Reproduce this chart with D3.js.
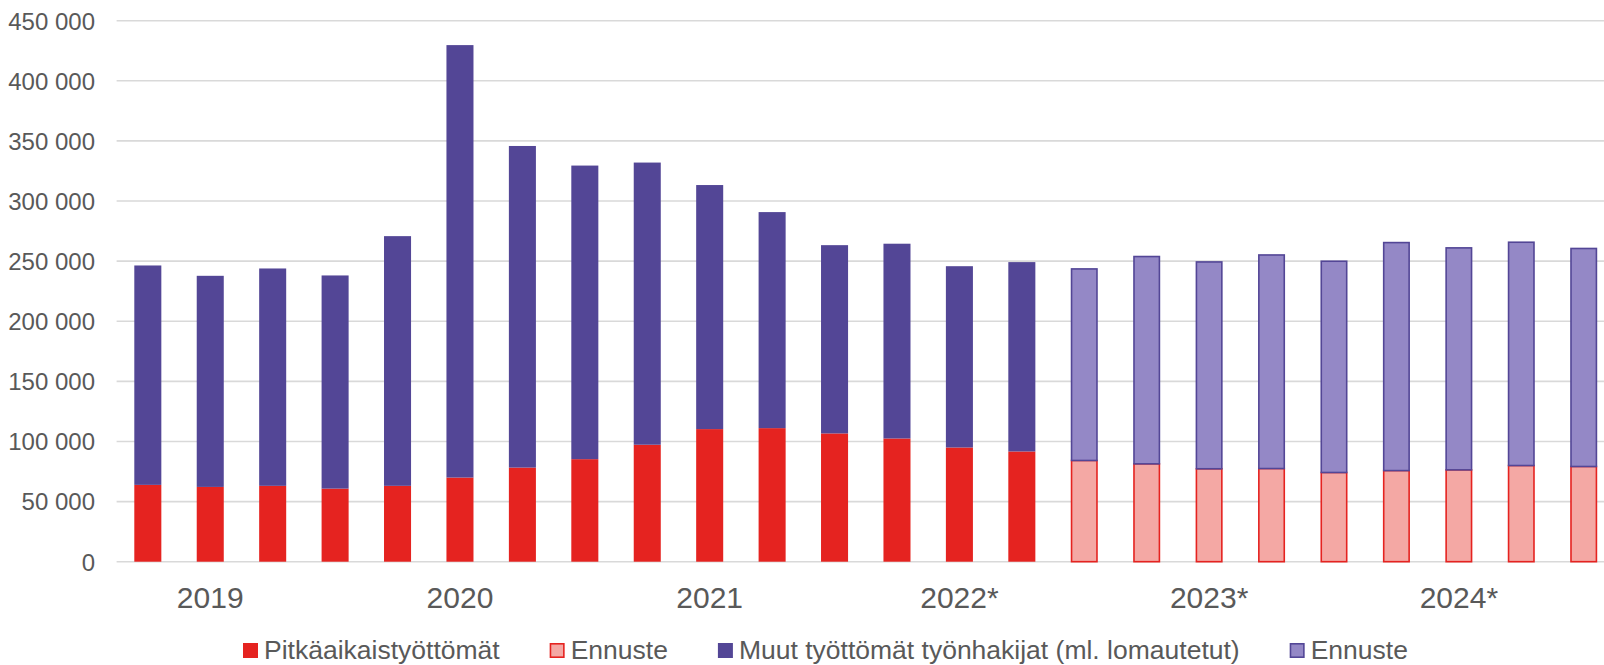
<!DOCTYPE html>
<html>
<head>
<meta charset="utf-8">
<script src="https://cdn.jsdelivr.net/npm/d3@7"></script>
<style>
  html, body { margin: 0; padding: 0; background: #ffffff; }
  svg { display: block; font-family: "Liberation Sans", Arial, sans-serif; }
</style>
</head>
<body>
<svg id="chart" width="1604" height="665"></svg>
<script>
// ---- Data ----
const quarters = [
  "2019 Q1","2019 Q2","2019 Q3","2019 Q4",
  "2020 Q1","2020 Q2","2020 Q3","2020 Q4",
  "2021 Q1","2021 Q2","2021 Q3","2021 Q4",
  "2022 Q1","2022 Q2","2022 Q3","2022 Q4",
  "2023 Q1","2023 Q2","2023 Q3","2023 Q4",
  "2024 Q1","2024 Q2","2024 Q3","2024 Q4"
];
// Pitkäaikaistyöttömät
const longTerm = [
  63900, 62200, 63100, 60800,
  63100, 70000, 78300, 85300,
  97300, 110300, 111100, 106700,
  102500, 95000, 91700, 84200,
  81400, 77300, 77500, 74200,
  75800, 76400, 80000, 79200
];
// Muut työttömät työnhakijat (ml. lomautetut)
const others = [
  182500, 175600, 180800, 177300,
  207700, 359700, 267500, 244200,
  234700, 203000, 179700, 156600,
  162000, 150800, 157500, 160000,
  173100, 172700, 178300, 176400,
  190300, 185300, 186400, 182000
];
// First forecast (Ennuste) quarter
const forecastFrom = "2022 Q4";
// Year labels on the category axis and the quarter they sit under
const yearLabels = ["2019", "2020", "2021", "2022*", "2023*", "2024*"];
const yearLabelQuarters = ["2019 Q2", "2020 Q2", "2021 Q2", "2022 Q2", "2023 Q2", "2024 Q2"];
const yTicks = [0, 50000, 100000, 150000, 200000, 250000, 300000, 350000, 400000, 450000];
const legendLabels = ["Pitkäaikaistyöttömät", "Ennuste", "Muut työttömät työnhakijat (ml. lomautetut)", "Ennuste"];

// ---- Styles ----
const RED = "#e52320", RED_LIGHT = "#f4a8a4";
const PURPLE = "#534696", PURPLE_LIGHT = "#9488c6";
const GRID = "#d9d9d9", TEXT = "#595959";

const svg = d3.select("#chart");
const step = 62.43;
const x0 = 116.6;
const x = d3.scaleBand()
  .domain(quarters)
  .range([x0, x0 + step * quarters.length])
  .paddingInner(0.567)
  .paddingOuter(0.2835);
const y = d3.scaleLinear().domain([0, 450000]).range([561.7, 20.7]);

const fmt = d3.formatLocale({ decimal: ",", thousands: "\u00a0", grouping: [3], currency: ["", "€"] }).format(",d");

// Gridlines
const yAxis = d3.axisLeft(y).tickValues(yTicks).tickSize(0).tickFormat(fmt);
svg.append("g")
  .selectAll("line")
  .data(yTicks)
  .join("line")
  .attr("x1", x0)
  .attr("x2", 1604)
  .attr("y1", d => y(d))
  .attr("y2", d => y(d))
  .attr("stroke", GRID)
  .attr("stroke-width", 1.6);

// Y axis labels
const gy = svg.append("g").attr("transform", "translate(95,0)").call(yAxis);
gy.select(".domain").remove();
gy.selectAll("text")
  .attr("x", 0)
  .attr("dy", "0.35em")
  .attr("fill", TEXT)
  .style("font-size", "24px")
  .style("font-family", "'Liberation Sans', Arial, sans-serif");

// Bars
const fIdx = quarters.indexOf(forecastFrom);
const rows = quarters.map((q, i) => ({
  q, i, red: longTerm[i], other: others[i], forecast: i >= fIdx
}));

const bars = svg.append("g");
rows.forEach(r => {
  const bw = x.bandwidth();
  const bx = x(r.q);
  if (r.forecast) {
    const sw = 1.6;
    bars.append("rect")
      .attr("x", bx + sw / 2).attr("width", bw - sw)
      .attr("y", y(r.red)).attr("height", y(0) - y(r.red))
      .attr("fill", RED_LIGHT).attr("stroke", RED).attr("stroke-width", sw);
    bars.append("rect")
      .attr("x", bx + sw / 2).attr("width", bw - sw)
      .attr("y", y(r.red + r.other) + sw / 2).attr("height", y(r.red) - y(r.red + r.other) - sw / 2)
      .attr("fill", PURPLE_LIGHT).attr("stroke", PURPLE).attr("stroke-width", sw);
  } else {
    bars.append("rect")
      .attr("x", bx).attr("width", bw)
      .attr("y", y(r.red)).attr("height", y(0) - y(r.red))
      .attr("fill", RED);
    bars.append("rect")
      .attr("x", bx).attr("width", bw)
      .attr("y", y(r.red + r.other)).attr("height", y(r.red) - y(r.red + r.other))
      .attr("fill", PURPLE);
  }
});

// X axis year labels
const xAxis = d3.axisBottom(x)
  .tickValues(yearLabelQuarters)
  .tickSize(0)
  .tickFormat(q => yearLabels[yearLabelQuarters.indexOf(q)]);
const gx = svg.append("g").attr("transform", "translate(0,561.7)").call(xAxis);
gx.select(".domain").remove();
gx.selectAll("text")
  .attr("y", 46.5)
  .attr("dy", 0)
  .attr("fill", TEXT)
  .style("font-size", "30px")
  .style("font-family", "'Liberation Sans', Arial, sans-serif");

// Legend
const legendItems = [
  { label: legendLabels[0], fill: RED, stroke: null },
  { label: legendLabels[1], fill: RED_LIGHT, stroke: RED },
  { label: legendLabels[2], fill: PURPLE, stroke: null },
  { label: legendLabels[3], fill: PURPLE_LIGHT, stroke: PURPLE }
];
const lg = svg.append("g");
let lx = 243;
const sqY = 643, baseY = 659;
legendItems.forEach(it => {
  const sq = lg.append("rect")
    .attr("x", lx + (it.stroke ? 0.8 : 0))
    .attr("y", sqY + (it.stroke ? 0.8 : 0))
    .attr("width", it.stroke ? 13.4 : 15)
    .attr("height", it.stroke ? 13.4 : 15)
    .attr("fill", it.fill);
  if (it.stroke) sq.attr("stroke", it.stroke).attr("stroke-width", 1.6);
  const t = lg.append("text")
    .attr("x", lx + 21)
    .attr("y", baseY)
    .attr("fill", TEXT)
    .style("font-size", "26.5px")
    .text(it.label);
  const w = t.node().getComputedTextLength();
  lx += 21 + w + 50;
});
</script>
</body>
</html>
